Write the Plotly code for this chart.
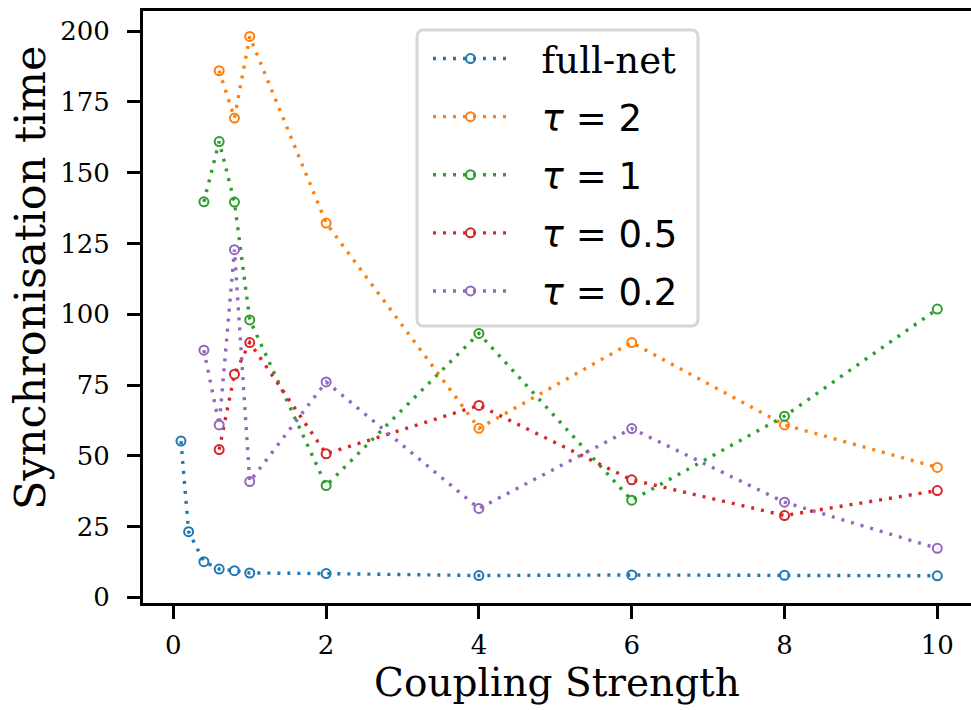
import plotly.graph_objects as go

# Data
full_x = [0.1, 0.2, 0.4, 0.6, 0.8, 1, 2, 4, 6, 8, 10]
full_y = [55.2, 23.2, 12.6, 10.0, 9.4, 8.6, 8.4, 7.7, 7.9, 7.8, 7.6]

tau2_x = [0.6, 0.8, 1, 2, 4, 6, 8, 10]
tau2_y = [186.0, 169.3, 198.1, 132.2, 59.7, 90.0, 60.9, 45.9]

tau1_x = [0.4, 0.6, 0.8, 1, 2, 4, 6, 8, 10]
tau1_y = [139.7, 161.0, 139.6, 98.0, 39.5, 93.2, 34.3, 64.0, 101.8]

tau05_x = [0.6, 0.8, 1, 2, 4, 6, 8, 10]
tau05_y = [52.2, 78.8, 90.0, 50.7, 67.8, 41.5, 28.9, 37.7]

tau02_x = [0.4, 0.6, 0.8, 1, 2, 4, 6, 8, 10]
tau02_y = [87.3, 60.9, 122.8, 40.9, 76.1, 31.4, 59.6, 33.6, 17.3]

GAP = '<span style="font-size:30px">\u00a0\u00a0\u00a0</span>'
names = [GAP + '<span style="font-family:DejaVu Serif">full-net</span>',
         GAP + '<i>τ</i> = 2', GAP + '<i>τ</i> = 1',
         GAP + '<i>τ</i> = 0.5', GAP + '<i>τ</i> = 0.2']
colors = ['#1f77b4', '#ff7f0e', '#2ca02c', '#d62728', '#9467bd']
series = [(full_x, full_y), (tau2_x, tau2_y), (tau1_x, tau1_y),
          (tau05_x, tau05_y), (tau02_x, tau02_y)]

x_ticks = [0, 2, 4, 6, 8, 10]
y_ticks = [0, 25, 50, 75, 100, 125, 150, 175, 200]

W, H = 971, 710
ML, MR, MT, MB = 143, 0, 11, 107

fig = go.Figure()
for i, ((xs, ys), name, col) in enumerate(zip(series, names, colors)):
    fig.add_trace(go.Scatter(
        x=xs, y=ys, name=name, mode='lines+markers',
        legendgroup=f'g{i}',
        line=dict(color=col, width=3.4, dash='3px,7px'),
        marker=dict(symbol='circle-open', size=9, color=col,
                    line=dict(width=2, color=col)),
    ))

pw, ph = W - ML - MR, H - MT - MB
def px2p(px, py):
    return (px - ML) / pw, (H - MB - py) / ph
def P(px, py):
    a, b = px2p(px, py)
    return f"{a:.5f},{b:.5f}"

# rounded legend frame
x0, y0, x1, y1, r = 417, 30, 698, 326, 7
path = (f"M{P(x0+r,y0)} L{P(x1-r,y0)} Q{P(x1,y0)} {P(x1,y0+r)} "
        f"L{P(x1,y1-r)} Q{P(x1,y1)} {P(x1-r,y1)} L{P(x0+r,y1)} "
        f"Q{P(x0,y1)} {P(x0,y1-r)} L{P(x0,y0+r)} Q{P(x0,y0)} {P(x0+r,y0)} Z")
fig.add_shape(type='path', path=path, xref='paper', yref='paper',
              line=dict(color='#d6d6d6', width=3), fillcolor='rgba(255,255,255,0.8)',
              layer='above')

# y-axis title as annotation
tx, ty = px2p(30, 278)
fig.add_annotation(text='Synchronisation time', xref='paper', yref='paper',
                   x=tx, y=ty, xanchor='center', yanchor='middle',
                   textangle=-90, showarrow=False,
                   font=dict(family='DejaVu Serif', size=43, color='black'))

lx, ly = px2p(428, 28)
fig.update_layout(
    width=W, height=H,
    margin=dict(l=ML, r=MR, t=MT, b=MB, pad=0),
    paper_bgcolor='white', plot_bgcolor='white',
    font=dict(family='DejaVu Serif', color='black'),
    showlegend=True,
    legend=dict(x=lx, y=ly, xanchor='left', yanchor='top',
                bgcolor='rgba(0,0,0,0)', borderwidth=0,
                font=dict(family='DejaVu Sans', size=37, color='black'),
                itemwidth=75, tracegroupgap=7),
    xaxis=dict(range=[-0.397, 10.441], tickvals=x_ticks,
               ticktext=[str(v) for v in x_ticks],
               showgrid=False, zeroline=False,
               showline=True, mirror=True, linecolor='black', linewidth=3,
               ticks='outside', ticklen=13, tickwidth=3, tickcolor='black',
               ticklabelstandoff=4,
               tickfont=dict(family='DejaVu Serif', size=26),
               title=dict(text='Coupling Strength',
                          font=dict(family='DejaVu Serif', size=39), standoff=9)),
    yaxis=dict(range=[-2.0, 207.1], tickvals=y_ticks,
               ticktext=[str(v) for v in y_ticks],
               showgrid=False, zeroline=False,
               showline=True, mirror=False, linecolor='black', linewidth=3,
               ticks='outside', ticklen=13, tickwidth=3, tickcolor='black',
               ticklabelstandoff=12,
               tickfont=dict(family='DejaVu Serif', size=26)),
)

fig.write_html('out.html')
